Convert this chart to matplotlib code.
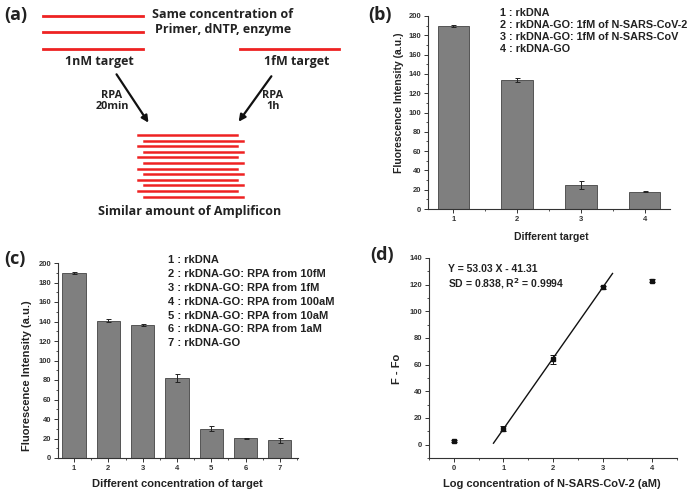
import matplotlib.pyplot as plt
from matplotlib.ticker import MultipleLocator

# --- data ---
b_labels = ["1", "2", "3", "4"]
b_values = [190, 134, 25, 18]
b_errors = [1, 2, 4.5, 0.6]
b_legend = ["1 : rkDNA",
            "2 : rkDNA-GO: 1fM of N-SARS-CoV-2",
            "3 : rkDNA-GO: 1fM of N-SARS-CoV",
            "4 : rkDNA-GO"]

c_labels = ["1", "2", "3", "4", "5", "6", "7"]
c_values = [190, 141, 136, 82, 30, 20.5, 18]
c_errors = [0.8, 1.5, 1, 4, 2.5, 0.5, 2.5]
c_legend = ["1 : rkDNA",
            "2 : rkDNA-GO: RPA from 10fM",
            "3 : rkDNA-GO: RPA from 1fM",
            "4 : rkDNA-GO: RPA from 100aM",
            "5 : rkDNA-GO: RPA from 10aM",
            "6 : rkDNA-GO: RPA from 1aM",
            "7 : rkDNA-GO"]

d_x = [0, 1, 2, 3, 4]
d_y = [3, 12, 64, 118, 123]
d_err = [0.8, 2, 3.5, 1, 1]
fit_slope, fit_icpt = 53.03, -41.31
fit_range = [0.8, 3.2]

W, H = 688, 492
fig = plt.figure(figsize=(W / 100, H / 100), dpi=100)
FONT = "Liberation Sans"
PANEL_FONT = "Open Sans"


def px_axes(left, top, right, bottom):
    return fig.add_axes([left / W, 1 - bottom / H, (right - left) / W, (bottom - top) / H])


def style_axes(ax):
    for s in ["top", "right"]:
        ax.spines[s].set_visible(False)
    for s in ["left", "bottom"]:
        ax.spines[s].set_linewidth(0.8)
        ax.spines[s].set_color("#333333")
    ax.tick_params(which="major", direction="out", length=3, width=0.7,
                   labelsize=5.5, colors="#333333", pad=2)
    ax.tick_params(which="minor", direction="out", length=1.5, width=0.6, colors="#333333")
    for lab in ax.get_xticklabels() + ax.get_yticklabels():
        lab.set_fontfamily(FONT)
        lab.set_fontweight("bold")


def fig_text(x, y, s, size=8, ha="left", va="center", family=FONT, **kw):
    fig.text(x / W, 1 - y / H, s, fontsize=size, ha=ha, va=va,
             fontfamily=family, fontweight="bold", color="#222222", **kw)


# --- panel (a): schematic ---
axa = fig.add_axes([0, 0, 1, 1], zorder=-1)
axa.set_xlim(0, W)
axa.set_ylim(H, 0)
axa.axis("off")
red = "#ee2222"
for y in [16, 32, 49]:
    axa.plot([43, 143], [y, y], color=red, lw=2)
axa.plot([240, 339], [49, 49], color=red, lw=2)
for i in range(12):
    y = 135 + i * 5.6
    if i % 2 == 0:
        axa.plot([138, 237], [y, y], color=red, lw=1.8)
    else:
        axa.plot([144, 243], [y, y], color=red, lw=1.8)
axa.annotate("", xy=(150, 125), xytext=(115, 72),
             arrowprops=dict(arrowstyle="-|>", color="#111111", lw=1.6, mutation_scale=10))
axa.annotate("", xy=(237, 124), xytext=(273, 74),
             arrowprops=dict(arrowstyle="-|>", color="#111111", lw=1.6, mutation_scale=10))
fig_text(223, 14, "Same concentration of", size=9, ha="center", family=PANEL_FONT)
fig_text(223, 30, "Primer, dNTP, enzyme", size=9, ha="center", family=PANEL_FONT)
fig_text(99, 62, "1nM target", size=9, ha="center", family=PANEL_FONT)
fig_text(297, 62, "1fM target", size=9, ha="center", family=PANEL_FONT)
fig_text(112, 101, "RPA\n20min", size=7.8, ha="center", family=PANEL_FONT, linespacing=1.0)
fig_text(273, 101, "RPA\n1h", size=7.8, ha="center", family=PANEL_FONT, linespacing=1.0)
fig_text(190, 211, "Similar amount of Amplificon", size=9, ha="center", family=PANEL_FONT)

fig_text(4, 15, "(a)", size=13, family=PANEL_FONT)
fig_text(368, 15, "(b)", size=13, family=PANEL_FONT)
fig_text(4, 259, "(c)", size=13, family=PANEL_FONT)
fig_text(370, 255, "(d)", size=13, family=PANEL_FONT)

bar_kw = dict(color="#7f7f7f", edgecolor="#444444", linewidth=0.6,
              error_kw=dict(elinewidth=0.7, capsize=1.8, capthick=0.7, ecolor="#222222"))

# --- panel (b) ---
axb = px_axes(428, 16, 670, 209)
xb = range(1, len(b_values) + 1)
axb.bar(xb, b_values, width=0.5, yerr=b_errors, **bar_kw)
axb.set_xlim(0.6, 4.4)
axb.set_ylim(0, 200)
axb.set_xticks(list(xb))
axb.set_xticklabels(b_labels)
axb.yaxis.set_major_locator(MultipleLocator(20))
axb.yaxis.set_minor_locator(MultipleLocator(10))
axb.xaxis.set_minor_locator(MultipleLocator(0.5))
style_axes(axb)
for i, t in enumerate(b_legend):
    fig_text(500, 13 + i * 12.1, t, size=7.8)
fig_text(399, 103, "Fluorescence Intensity (a.u.)", size=7.5, ha="center", rotation=90)
fig_text(551, 237, "Different target", size=7.5, ha="center")

# --- panel (c) ---
axc = px_axes(58, 263, 298, 458)
xc = range(1, len(c_values) + 1)
axc.bar(xc, c_values, width=0.68, yerr=c_errors, **bar_kw)
axc.set_xlim(0.53, 7.53)
axc.set_ylim(0, 200)
axc.set_xticks(list(xc))
axc.set_xticklabels(c_labels)
axc.yaxis.set_major_locator(MultipleLocator(20))
axc.yaxis.set_minor_locator(MultipleLocator(10))
axc.xaxis.set_minor_locator(MultipleLocator(0.5))
style_axes(axc)
for i, t in enumerate(c_legend):
    fig_text(168, 260 + i * 13.9, t, size=8)
fig_text(27, 376, "Fluorescence Intensity (a.u.)", size=8, ha="center", rotation=90)
fig_text(177, 484, "Different concentration of target", size=8, ha="center")

# --- panel (d) ---
axd = px_axes(429, 258, 677, 458)
axd.errorbar(d_x, d_y, yerr=d_err, fmt="s", ms=3, color="#111111",
             elinewidth=0.7, capsize=2, capthick=0.7)
axd.plot(fit_range, [fit_slope * x + fit_icpt for x in fit_range], color="#111111", lw=1)
axd.set_xlim(-0.5, 4.5)
axd.set_ylim(-10, 140)
axd.xaxis.set_major_locator(MultipleLocator(1))
axd.xaxis.set_minor_locator(MultipleLocator(0.5))
axd.yaxis.set_major_locator(MultipleLocator(20))
axd.yaxis.set_minor_locator(MultipleLocator(10))
style_axes(axd)
fig_text(448, 269, "Y = 53.03 X - 41.31", size=7.5)
fig_text(448, 284, "SD = 0.838, R$^\\mathbf{2}$ = 0.9994", size=7.5)
fig_text(397, 369, "F - Fo", size=8, ha="center", rotation=90)
fig_text(552, 484, "Log concentration of N-SARS-CoV-2 (aM)", size=8, ha="center")

fig.savefig("out.png", dpi=100)
